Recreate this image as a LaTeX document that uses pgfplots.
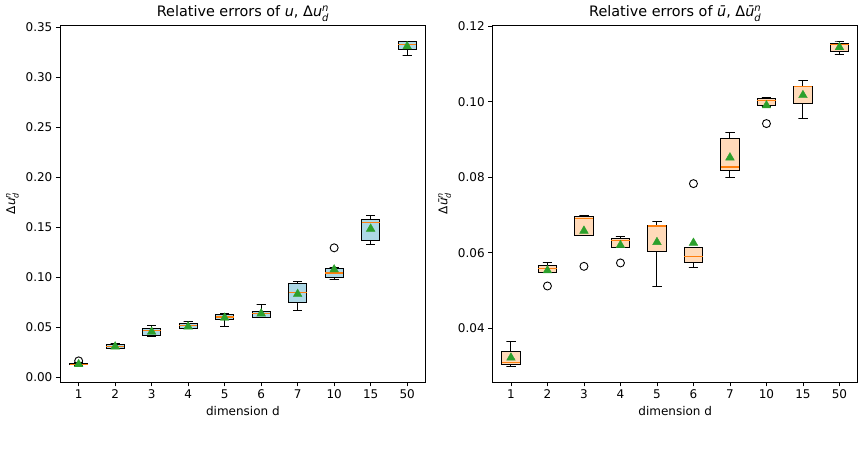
\documentclass[border=0pt]{standalone}
\usepackage{pgfplots}
\pgfplotsset{compat=1.18}
\usepackage{amsmath}
\usepackage{fontspec}
\setmainfont{DejaVu Sans}
\definecolor{boxblue}{HTML}{ADD8E6}
\definecolor{boxpeach}{HTML}{FFDAB9}
\definecolor{medorange}{HTML}{FF7F0E}
\definecolor{meangreen}{HTML}{2CA02C}
\pgfplotsset{
  mystyle/.style={
    scale only axis, width=365pt, height=357pt,
    xmin=0.5, xmax=10.5,
    xtick={1,2,3,4,5,6,7,8,9,10}, xticklabels={1,2,3,4,5,6,7,10,15,50},
    tick align=outside, tick pos=left, major tick length=4.5pt,
    every tick/.style={black, line width=0.9pt},
    axis line style={line width=0.9pt},
    tick label style={font=\fontsize{12}{14}\selectfont},
    label style={font=\fontsize{12}{14}\selectfont},
    title style={font=\fontsize{14.4}{17}\selectfont, yshift=-6pt},
    /pgf/number format/assume math mode=true,
    yticklabel style={/pgf/number format/.cd, fixed, fixed zerofill, precision=2},
    scaled y ticks=false,
    xlabel={dimension d},
  },
  meanst/.style={only marks, mark=triangle*, mark size=5pt, color=meangreen},
  outst/.style={only marks, mark=o, mark size=4pt, black, line width=0.9pt},
}
% #1 position, #2 lower whisker, #3 lower quartile, #4 median, #5 upper quartile, #6 upper whisker, #7 fill
\newcommand{\bxp}[7]{%
  \pgfmathsetmacro\bxl{#1-0.25}\pgfmathsetmacro\bxr{#1+0.25}%
  \pgfmathsetmacro\cxl{#1-0.125}\pgfmathsetmacro\cxr{#1+0.125}%
  \addplot[draw=black, line width=1pt] coordinates {(#1,#3) (#1,#2) (\cxl,#2) (\cxr,#2)};
  \addplot[draw=black, line width=1pt] coordinates {(#1,#5) (#1,#6) (\cxl,#6) (\cxr,#6)};
  \addplot[draw=black, line width=1pt, fill=#7] coordinates {(\bxl,#3) (\bxr,#3) (\bxr,#5) (\bxl,#5)} -- cycle;
  \addplot[draw=medorange, line width=1.2pt] coordinates {(\bxl,#4) (\bxr,#4)};
}
\begin{document}
\begin{tikzpicture}
\useasboundingbox (-60.4pt,-67pt) rectangle (804.6pt,382pt);
\begin{axis}[mystyle,
  ymin=-0.0044, ymax=0.3524,
  ytick={0,0.05,0.10,0.15,0.20,0.25,0.30,0.35},
  title={Relative errors of \textit{u}, Δ\textit{u}$^{\textit{n}}_{\textit{d}}$},
  ylabel={Δ\textit{u}$^{\textit{n}}_{\textit{d}}$},
]
\bxp{1}{0.0118}{0.0127}{0.0134}{0.0143}{0.0150}{boxblue}
\bxp{2}{0.0286}{0.0293}{0.0313}{0.0328}{0.0345}{boxblue}
\bxp{3}{0.0406}{0.0418}{0.0470}{0.0487}{0.0519}{boxblue}
\bxp{4}{0.0486}{0.0493}{0.0524}{0.0542}{0.0558}{boxblue}
\bxp{5}{0.0512}{0.0580}{0.0605}{0.0632}{0.0639}{boxblue}
\bxp{6}{0.0600}{0.0604}{0.0642}{0.0659}{0.0732}{boxblue}
\bxp{7}{0.0672}{0.0752}{0.0851}{0.0938}{0.0965}{boxblue}
\bxp{8}{0.0983}{0.1001}{0.1045}{0.1095}{0.1100}{boxblue}
\bxp{9}{0.1327}{0.1370}{0.1547}{0.1577}{0.1617}{boxblue}
\bxp{10}{0.3222}{0.3280}{0.3330}{0.3360}{0.3362}{boxblue}
\addplot[outst] coordinates {(1,0.0167) (8,0.1297)};
\addplot[meanst] coordinates {(1,0.0133) (2,0.0310) (3,0.0458) (4,0.0510) (5,0.0598) (6,0.0640) (7,0.0835) (8,0.1080) (9,0.1487) (10,0.3310)};
\end{axis}
\begin{axis}[mystyle, at={(432.3pt,0pt)},
  ymin=0.02578, ymax=0.1203,
  ytick={0.04,0.06,0.08,0.10,0.12},
  title={Relative errors of \textit{ū}, Δ\textit{ū}$^{\textit{n}}_{\textit{d}}$},
  ylabel={Δ\textit{ū}$^{\textit{n}}_{\textit{d}}$},
]
\bxp{1}{0.0299}{0.0303}{0.0310}{0.0339}{0.0364}{boxpeach}
\bxp{2}{0.0548}{0.0549}{0.0559}{0.0567}{0.0575}{boxpeach}
\bxp{3}{0.0645}{0.0646}{0.0690}{0.0696}{0.0699}{boxpeach}
\bxp{4}{0.0613}{0.0614}{0.0633}{0.0639}{0.0642}{boxpeach}
\bxp{5}{0.0511}{0.0602}{0.0671}{0.0672}{0.0682}{boxpeach}
\bxp{6}{0.0560}{0.0575}{0.0591}{0.0615}{0.0615}{boxpeach}
\bxp{7}{0.0798}{0.0818}{0.0827}{0.0903}{0.0919}{boxpeach}
\bxp{8}{0.0988}{0.0989}{0.1004}{0.1009}{0.1011}{boxpeach}
\bxp{9}{0.0955}{0.0994}{0.1040}{0.1041}{0.1056}{boxpeach}
\bxp{10}{0.1126}{0.1133}{0.1152}{0.1154}{0.1158}{boxpeach}
\addplot[outst] coordinates {(2,0.0512) (3,0.0564) (4,0.0573) (6,0.0783) (8,0.0942)};
\addplot[meanst] coordinates {(1,0.0322) (2,0.0553) (3,0.0658) (4,0.0620) (5,0.0628) (6,0.0626) (7,0.0852) (8,0.0990) (9,0.1017) (10,0.1144)};
\end{axis}
\end{tikzpicture}
\end{document}
